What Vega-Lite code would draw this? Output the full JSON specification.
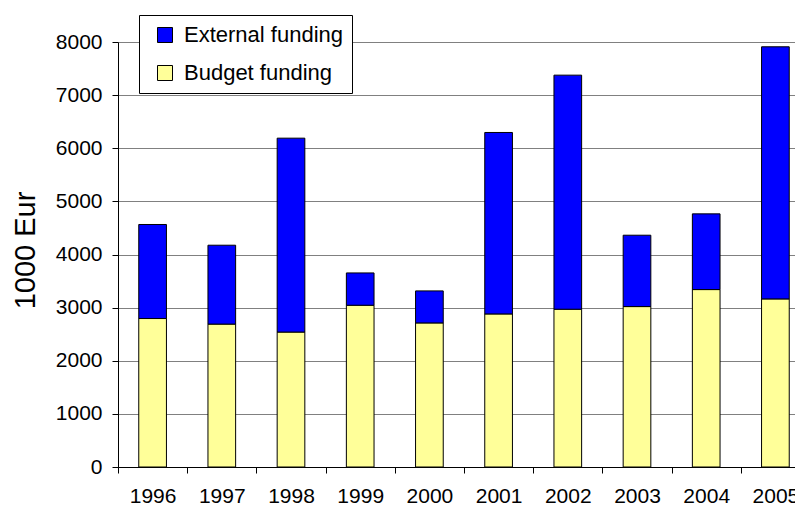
{
  "$schema": "https://vega.github.io/schema/vega-lite/v6.json",
  "width": 677,
  "height": 425,
  "autosize": "none",
  "padding": {"left": 118, "top": 42, "right": 0, "bottom": 38},
  "background": "white",
  "config": {
    "view": {"stroke": null},
    "font": "Liberation Sans"
  },
  "data": {
    "values": [
      {"year": "1996", "series": "Budget funding", "value": 2795},
      {"year": "1996", "series": "External funding", "value": 1770},
      {"year": "1997", "series": "Budget funding", "value": 2690},
      {"year": "1997", "series": "External funding", "value": 1485},
      {"year": "1998", "series": "Budget funding", "value": 2540},
      {"year": "1998", "series": "External funding", "value": 3650},
      {"year": "1999", "series": "Budget funding", "value": 3045},
      {"year": "1999", "series": "External funding", "value": 608},
      {"year": "2000", "series": "Budget funding", "value": 2712},
      {"year": "2000", "series": "External funding", "value": 603},
      {"year": "2001", "series": "Budget funding", "value": 2881},
      {"year": "2001", "series": "External funding", "value": 3416},
      {"year": "2002", "series": "Budget funding", "value": 2970},
      {"year": "2002", "series": "External funding", "value": 4406},
      {"year": "2003", "series": "Budget funding", "value": 3020},
      {"year": "2003", "series": "External funding", "value": 1343},
      {"year": "2004", "series": "Budget funding", "value": 3340},
      {"year": "2004", "series": "External funding", "value": 1425},
      {"year": "2005", "series": "Budget funding", "value": 3164},
      {"year": "2005", "series": "External funding", "value": 4746}
    ]
  },
  "mark": {"type": "bar", "stroke": "black", "strokeWidth": 1},
  "encoding": {
    "x": {
      "field": "year",
      "type": "nominal",
      "scale": {"range": [0, 692], "paddingInner": 0.6, "paddingOuter": 0.3},
      "axis": {
        "title": null,
        "labelAngle": 0,
        "labelFontSize": 21,
        "labelColor": "black",
        "labelPadding": 12,
        "tickSize": 6,
        "tickColor": "black",
        "domainColor": "black",
        "tickOffset": -34.6,
        "labelOffset": 34.6,
        "grid": false
      }
    },
    "y": {
      "field": "value",
      "type": "quantitative",
      "aggregate": "sum",
      "stack": "zero",
      "scale": {"domain": [0, 8000], "nice": false},
      "axis": {
        "title": "1000 Eur",
        "titleFontSize": 29,
        "titleFontWeight": "normal",
        "titleColor": "black",
        "titlePadding": 15,
        "titleY": 208,
        "values": [0, 1000, 2000, 3000, 4000, 5000, 6000, 7000, 8000],
        "format": "d",
        "labelFontSize": 21,
        "labelColor": "black",
        "labelPadding": 10,
        "tickSize": 6,
        "tickColor": "black",
        "domainColor": "black",
        "grid": true,
        "gridColor": "#808080",
        "gridWidth": 1.2
      }
    },
    "color": {
      "field": "series",
      "type": "nominal",
      "scale": {"domain": ["External funding", "Budget funding"], "range": ["#0000FF", "#FFFF99"]},
      "legend": {
        "title": null,
        "orient": "none",
        "legendX": 21,
        "legendY": -27,
        "fillColor": "white",
        "strokeColor": "black",
        "padding": 9,
        "labelFontSize": 22,
        "labelColor": "black",
        "labelOffset": 8,
        "symbolOffset": 6,
        "symbolType": "square",
        "symbolSize": 225,
        "symbolStrokeColor": "black",
        "symbolStrokeWidth": 1,
        "rowPadding": 16
      }
    },
    "order": {"field": "series", "sort": "ascending"}
  }
}
